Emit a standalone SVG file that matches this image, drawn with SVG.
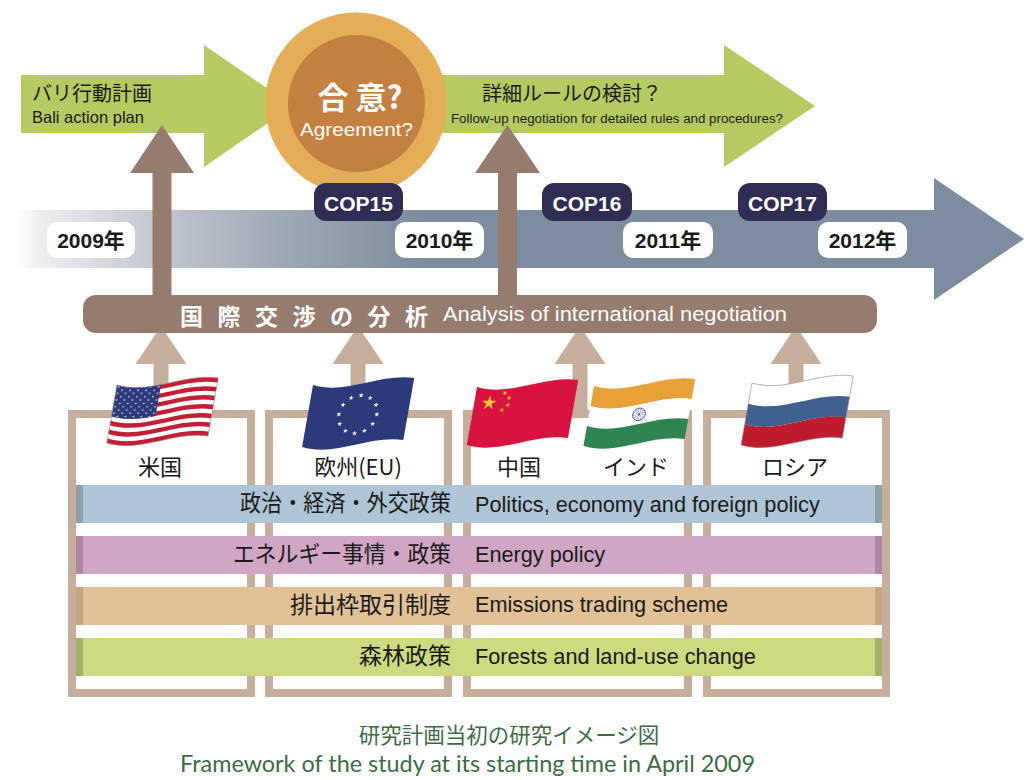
<svg xmlns="http://www.w3.org/2000/svg" width="1035" height="780" viewBox="0 0 1035 780">
<defs>
<style>
.jp{font-family:"Noto Sans CJK JP","Noto Sans CJK SC",sans-serif}
.en{font-family:"Liberation Sans",Arial,sans-serif}
.ink{fill:#1a1a1a}
.wt{fill:#ffffff}
.green{fill:#B5CB62}
.brown{fill:#967C6E}
.light{fill:#C5AE9C}
.cop{fill:#302D55}
.year{fill:#ffffff}
.frame{fill:#ffffff;stroke:#C5AE9C;stroke-width:8}
.flagline{fill:none;stroke:#8a8a8a;stroke-width:0.6}
.cap{fill:#3C6B45}
.bartxt{font-size:21.7px}
</style>
<linearGradient id="band" gradientUnits="userSpaceOnUse" x1="15" y1="0" x2="420" y2="0">
<stop offset="0" stop-color="#ffffff"/>
<stop offset="0.065" stop-color="#eceef1"/>
<stop offset="0.35" stop-color="#c2c7cf"/>
<stop offset="0.65" stop-color="#a0aab6"/>
<stop offset="1" stop-color="#7D8C9E"/>
</linearGradient>
<path id="star" d="M0,-1 L0.2245,-0.309 L0.9511,-0.309 L0.3633,0.118 L0.5878,0.809 L0,0.382 L-0.5878,0.809 L-0.3633,0.118 L-0.9511,-0.309 L-0.2245,-0.309 Z"/>
<pattern id="usstars" patternUnits="userSpaceOnUse" x="0" y="0" width="8" height="6.6">
<use href="#star" transform="translate(2,1.8) scale(1.3)" fill="#fff"/>
<use href="#star" transform="translate(6,5.1) scale(1.3)" fill="#fff"/>
</pattern>
<clipPath id="canton"><rect x="-5" y="-20" width="49" height="80"/></clipPath>
</defs>

<!-- top green arrows -->
<g id="bali">
<path class="green" d="M21,75 H204 V45 L293,106 L204,167 V133 H21 Z"/>
</g>
<g id="followup">
<path class="green" d="M440,75 H724 V45 L815,106 L724,167 V133 H440 Z"/>
</g>
<g id="agreement">
<circle cx="356" cy="103.5" r="91" fill="#E4AD58"/>
<circle cx="356.5" cy="103.5" r="68.5" fill="#C48040"/>
<text class="jp wt" x="360" y="109" font-size="31" font-weight="bold" text-anchor="middle">合 意?</text>
<text class="en wt" x="300" y="136" font-size="18.5" textLength="113" lengthAdjust="spacingAndGlyphs">Agreement?</text>
</g>

<!-- timeline -->
<g id="timeline">
<path fill="url(#band)" d="M15,210 H934 V178 L1024,239 L934,300 V268 H15 Z"/>
</g>
<g id="cop15"><rect class="cop" x="314" y="183" width="89" height="38" rx="12"/><text class="en wt" x="358.5" y="211" font-size="21" font-weight="bold" text-anchor="middle">COP15</text></g>
<g id="cop16"><rect class="cop" x="542" y="183" width="90" height="38" rx="12"/><text class="en wt" x="587" y="211" font-size="21" font-weight="bold" text-anchor="middle">COP16</text></g>
<g id="cop17"><rect class="cop" x="738" y="183" width="89" height="38" rx="12"/><text class="en wt" x="782.5" y="211" font-size="21" font-weight="bold" text-anchor="middle">COP17</text></g>
<g id="y2009"><rect class="year" x="47" y="222" width="88" height="36" rx="10"/><text class="en ink" x="91" y="248" font-size="21" font-weight="bold" text-anchor="middle">2009<tspan class="jp">年</tspan></text></g>
<g id="y2010"><rect class="year" x="395" y="222" width="89" height="36" rx="10"/><text class="en ink" x="439.5" y="248" font-size="21" font-weight="bold" text-anchor="middle">2010<tspan class="jp">年</tspan></text></g>
<g id="y2011"><rect class="year" x="623" y="222" width="90" height="36" rx="10"/><text class="en ink" x="668" y="248" font-size="21" font-weight="bold" text-anchor="middle">2011<tspan class="jp">年</tspan></text></g>
<g id="y2012"><rect class="year" x="818" y="222" width="89" height="36" rx="10"/><text class="en ink" x="862.5" y="248" font-size="21" font-weight="bold" text-anchor="middle">2012<tspan class="jp">年</tspan></text></g>

<!-- connectors -->
<g id="connectors">
<path class="brown" d="M152.5,296 V173 H130 L162,125 L194,173 H171.5 V296 Z"/>
<path class="brown" d="M498,296 V173 H475 L507.5,125 L540,173 H517 V296 Z"/>
<path class="light" d="M153.5,412 V364 H135.5 L161,326 L186.5,364 H168.5 V412 Z"/>
<path class="light" d="M350.5,412 V364 H332.5 L358,326 L383.5,364 H365.5 V412 Z"/>
<path class="light" d="M572.5,412 V364 H554.5 L580,326 L605.5,364 H587.5 V412 Z"/>
<path class="light" d="M788.5,412 V364 H770.5 L796,326 L821.5,364 H803.5 V412 Z"/>
</g>

<!-- texts on green arrows -->
<g id="bali-text">
<text class="jp ink" x="32" y="101" font-size="20">バリ行動計画</text>
<text class="en ink" x="32" y="123" font-size="16.5">Bali action plan</text>
</g>
<g id="followup-text">
<text class="jp ink" x="482" y="101" font-size="20">詳細ルールの検討？</text>
<text class="en ink" x="451" y="123" font-size="12.5" textLength="332" lengthAdjust="spacingAndGlyphs">Follow-up negotiation for detailed rules and procedures?</text>
</g>

<!-- analysis bar -->
<g id="analysis">
<rect class="brown" x="83" y="295" width="794" height="38" rx="13"/>
<text class="jp wt" x="180" y="325" font-size="23" font-weight="bold" letter-spacing="14.5">国際交渉の分析</text>
<text class="en wt" x="443" y="321" font-size="20.5" textLength="344" lengthAdjust="spacingAndGlyphs">Analysis of international negotiation</text>
</g>

<!-- country frames -->
<g id="box-us"><rect class="frame" x="72" y="414" width="179" height="279"/></g>
<g id="box-eu"><rect class="frame" x="269" y="414" width="179" height="279"/></g>
<g id="box-cn-in"><rect class="frame" x="467" y="414" width="221" height="279"/></g>
<g id="box-ru"><rect class="frame" x="707" y="414" width="179" height="279"/></g>

<!-- flags -->
<g id="flag-us" transform="translate(117,385) skewX(-10)">
<path fill="#ffffff" d="M0,0 C35,10 65,-12 100,-7 L100,51 C65,46 35,68 0,58 Z"/>
<path fill="#C41E35" d="M0,0 C35,10 65,-12 100,-7 L100,-2.54 C65,-7.54 35,14.46 0,4.46 Z M0,8.92 C35,18.92 65,-3.08 100,1.92 L100,6.38 C65,1.38 35,23.38 0,13.38 Z M0,17.85 C35,27.85 65,5.850 100,10.85 L100,15.31 C65,10.31 35,32.31 0,22.31 Z M0,26.77 C35,36.77 65,14.77 100,19.77 L100,24.23 C65,19.23 35,41.23 0,31.23 Z M0,35.69 C35,45.69 65,23.69 100,28.69 L100,33.15 C65,28.15 35,50.15 0,40.15 Z M0,44.62 C35,54.62 65,32.62 100,37.62 L100,42.08 C65,37.08 35,59.08 0,49.08 Z M0,53.54 C35,63.54 65,41.54 100,46.54 L100,51 C65,46 35,68 0,58 Z"/>
<g clip-path="url(#canton)">
<path fill="#2B3A7B" d="M0,0 C35,10 65,-12 100,-7 L100,24.23 C65,19.23 35,41.23 0,31.23 Z"/>
<path fill="url(#usstars)" d="M0,0 C35,10 65,-12 100,-7 L100,24.23 C65,19.23 35,41.23 0,31.23 Z"/>
</g>
<path class="flagline" d="M0,0 C35,10 65,-12 100,-7 L100,51 C65,46 35,68 0,58 Z"/>
</g>

<g id="flag-eu" transform="translate(313,385) skewX(-10)">
<path fill="#2C3A7C" d="M0,0 C35,10 65,-12 100,-7 L100,55 C65,50 35,72 0,62 Z"/>
<g fill="#ffffff">
<use href="#star" transform="translate(50,10.4) scale(2.6)"/>
<use href="#star" transform="translate(59.5,12.95) scale(2.6)"/>
<use href="#star" transform="translate(66.45,19.9) scale(2.6)"/>
<use href="#star" transform="translate(69,29.4) scale(2.6)"/>
<use href="#star" transform="translate(66.45,38.9) scale(2.6)"/>
<use href="#star" transform="translate(59.5,45.85) scale(2.6)"/>
<use href="#star" transform="translate(50,48.4) scale(2.6)"/>
<use href="#star" transform="translate(40.5,45.85) scale(2.6)"/>
<use href="#star" transform="translate(33.55,38.9) scale(2.6)"/>
<use href="#star" transform="translate(31,29.4) scale(2.6)"/>
<use href="#star" transform="translate(33.55,19.9) scale(2.6)"/>
<use href="#star" transform="translate(40.5,12.95) scale(2.6)"/>
</g>
</g>

<g id="flag-cn" transform="translate(477,387) skewX(-10)">
<path fill="#D8133F" d="M0,0 C35,10 65,-12 100,-7 L100,51 C65,46 35,68 0,58 Z"/>
<g fill="#F6CB2F">
<use href="#star" transform="translate(15,16) scale(7.5)"/>
<use href="#star" transform="translate(29,6) rotate(20) scale(2.5)"/>
<use href="#star" transform="translate(34,11) rotate(40) scale(2.5)"/>
<use href="#star" transform="translate(34,18) rotate(5) scale(2.5)"/>
<use href="#star" transform="translate(29,23) rotate(20) scale(2.5)"/>
</g>
</g>

<g id="flag-in" transform="translate(594,386) skewX(-10)">
<path fill="#E8A136" d="M0,0 C35,10 65,-12 100,-7 L100,13 C65,8 35,30 0,20 Z"/>
<path fill="#ffffff" d="M0,20 C35,30 65,8 100,13 L100,33 C65,28 35,50 0,40 Z"/>
<path fill="#2E8551" d="M0,40 C35,50 65,28 100,33 L100,53 C65,48 35,70 0,60 Z"/>
<circle cx="50" cy="28.4" r="6.3" fill="none" stroke="#3E4F9E" stroke-width="0.9"/>
<circle cx="50" cy="28.4" r="3.6" fill="none" stroke="#6f7cc0" stroke-width="4.5" stroke-dasharray="0.5 1.2"/>
<circle cx="50" cy="28.4" r="1.1" fill="#3E4F9E"/>
</g>

<g id="flag-ru" transform="translate(752,383) skewX(-10)">
<path fill="#ffffff" d="M0,0 C35,10 65,-12 100,-7 L100,13.67 C65,8.67 35,30.67 0,20.67 Z"/>
<path fill="#3E5F8F" d="M0,20.67 C35,30.67 65,8.67 100,13.67 L100,34.33 C65,29.33 35,51.33 0,41.33 Z"/>
<path fill="#BE1C2D" d="M0,41.33 C35,51.33 65,29.33 100,34.33 L100,55 C65,50 35,72 0,62 Z"/>
<path class="flagline" d="M0,0 C35,10 65,-12 100,-7 L100,55 C65,50 35,72 0,62 Z"/>
</g>

<!-- country labels -->
<g id="labels">
<text class="jp ink" x="160" y="475" font-size="22" text-anchor="middle">米国</text>
<text class="jp ink" x="358" y="475" font-size="22" text-anchor="middle">欧州(EU)</text>
<text class="jp ink" x="519" y="475" font-size="22" text-anchor="middle">中国</text>
<text class="jp ink" x="636" y="475" font-size="22" text-anchor="middle">インド</text>
<text class="jp ink" x="795" y="475" font-size="22" text-anchor="middle">ロシア</text>
</g>

<!-- category bars -->
<g id="bar-politics">
<rect x="76" y="485" width="806" height="38" fill="#ADC5D4"/>
<rect x="76" y="485" width="7" height="38" fill="#8F9FA6"/><rect x="875" y="485" width="7" height="38" fill="#8F9FA6"/>
<text class="jp ink" x="240" y="511" font-size="23" textLength="211" lengthAdjust="spacingAndGlyphs">政治・経済・外交政策</text>
<text class="en ink bartxt" x="475" y="512">Politics, economy and foreign policy</text>
</g>
<g id="bar-energy">
<rect x="76" y="536" width="806" height="38" fill="#D1A6C5"/>
<rect x="76" y="536" width="7" height="38" fill="#AC89A2"/><rect x="875" y="536" width="7" height="38" fill="#AC89A2"/>
<text class="jp ink" x="233" y="562" font-size="23" textLength="218" lengthAdjust="spacingAndGlyphs">エネルギー事情・政策</text>
<text class="en ink bartxt" x="475" y="562">Energy policy</text>
</g>
<g id="bar-emissions">
<rect x="76" y="587" width="806" height="38" fill="#E1C195"/>
<rect x="76" y="587" width="7" height="38" fill="#C5A681"/><rect x="875" y="587" width="7" height="38" fill="#C5A681"/>
<text class="jp ink" x="451" y="613" font-size="23" text-anchor="end">排出枠取引制度</text>
<text class="en ink bartxt" x="475" y="612">Emissions trading scheme</text>
</g>
<g id="bar-forests">
<rect x="76" y="638" width="806" height="38" fill="#CDDA80"/>
<rect x="76" y="638" width="7" height="38" fill="#A5AF6A"/><rect x="875" y="638" width="7" height="38" fill="#A5AF6A"/>
<text class="jp ink" x="451" y="664" font-size="23" text-anchor="end">森林政策</text>
<text class="en ink bartxt" x="475" y="664">Forests and land-use change</text>
</g>

<!-- caption -->
<g id="caption">
<text class="jp cap" x="509" y="743" font-size="21.5" text-anchor="middle">研究計画当初の研究イメージ図</text>
<text class="cap" x="180" y="772" font-size="24" font-family="Lato, 'Open Sans', sans-serif" textLength="575" lengthAdjust="spacingAndGlyphs">Framework of the study at its starting time in April 2009</text>
</g>
</svg>
